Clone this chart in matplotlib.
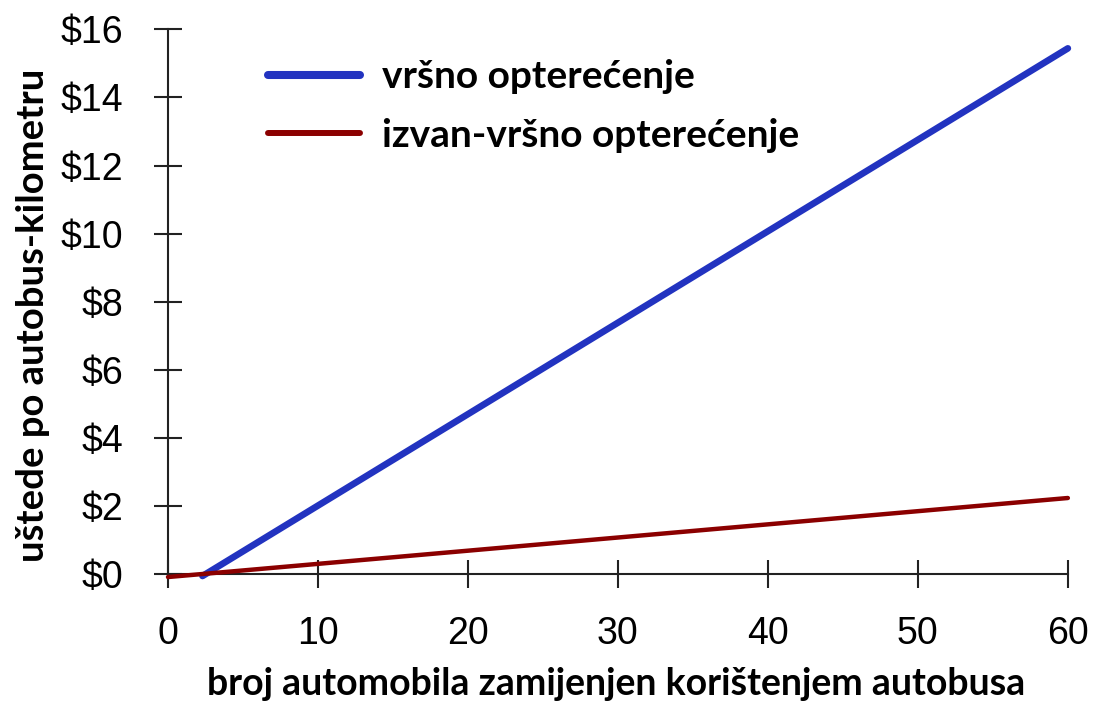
import matplotlib
matplotlib.use('Agg')
import matplotlib.pyplot as plt

# data
vrsno_x = [2.3, 60]
vrsno_y = [-0.05, 15.44]
izvan_x = [0, 60]
izvan_y = [-0.08, 2.24]
x_ticks = [0, 10, 20, 30, 40, 50, 60]
y_ticks = [0, 2, 4, 6, 8, 10, 12, 14, 16]
y_labels = ['$%d' % v for v in y_ticks]

fig = plt.figure(figsize=(10.93, 7.02), dpi=100)
ax = fig.add_axes([0.1537, 0.1819, 0.8233, 0.7764])

ax.plot(vrsno_x, vrsno_y, color='#2233c0', lw=4.8, clip_on=False,
        solid_capstyle='round', label='vršno opterećenje', zorder=3)
ax.plot(izvan_x, izvan_y, color='#8b0000', lw=3.2, clip_on=False,
        solid_capstyle='round', label='izvan-vršno opterećenje', zorder=3)

ax.set_xlim(0, 60)
ax.set_ylim(0, 16)
ax.set_xticks(x_ticks)
ax.set_yticks(y_ticks)
ax.set_yticklabels(y_labels)

for s in ['top', 'right']:
    ax.spines[s].set_visible(False)
for s in ['left', 'bottom']:
    ax.spines[s].set_color('#222222')
    ax.spines[s].set_linewidth(1.5)

ax.tick_params(direction='inout', length=20, width=1.5, color='#222222',
               labelsize=27)
ax.tick_params(axis='y', pad=22)
ax.tick_params(axis='x', pad=20)
for lab in ax.get_xticklabels() + ax.get_yticklabels():
    lab.set_family('Liberation Sans')

ax.set_xlabel('broj automobila zamijenjen korištenjem autobusa',
              family='Lato', weight='bold', fontsize=27, va='baseline')
ax.set_ylabel('uštede po autobus-kilometru', family='Lato', weight='bold',
              fontsize=27.5, va='center')
ax.xaxis.set_label_coords(0.498, -0.221)
ax.yaxis.set_label_coords(-0.15, 0.476)

leg = ax.legend(loc='upper left', bbox_to_anchor=(0.072, 1.009), frameon=False,
                handlelength=2.37, handletextpad=0.57, labelspacing=0.61,
                prop={'family': 'Lato', 'weight': 'bold', 'size': 28})
leg.get_lines()[0].set_linewidth(5.8)
leg.get_lines()[1].set_linewidth(4.3)

fig.savefig('out.png', dpi=100)
